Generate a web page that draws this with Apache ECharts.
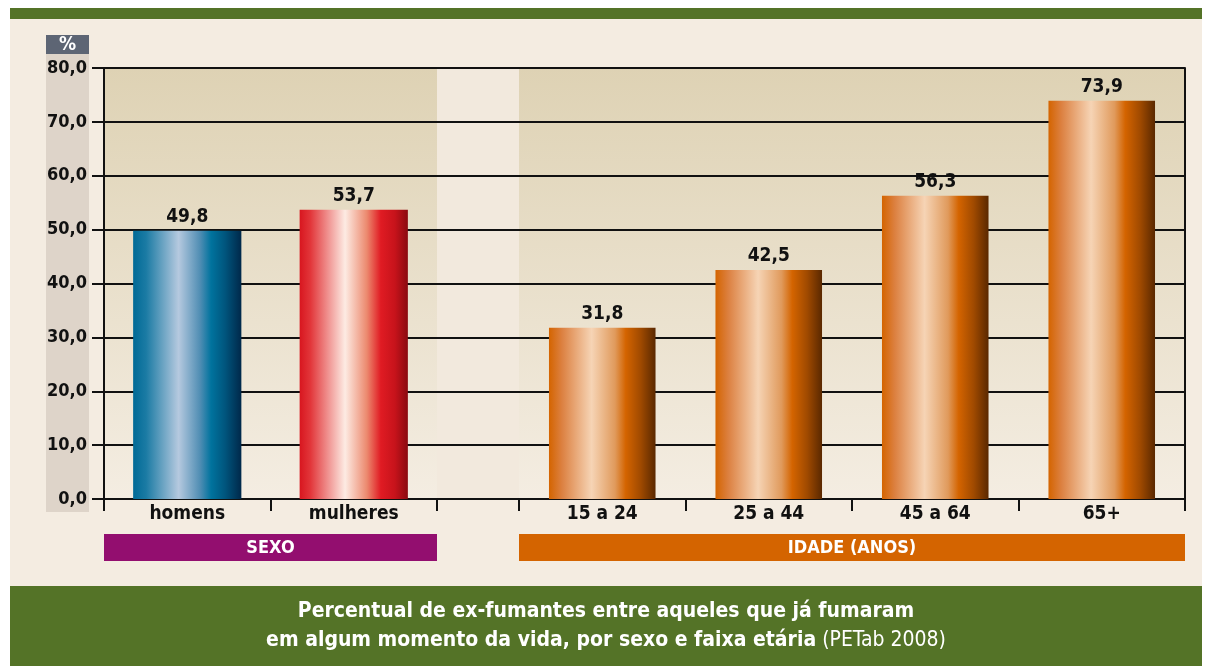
<!DOCTYPE html>
<html><head><meta charset="utf-8">
<script src="https://cdn.jsdelivr.net/npm/echarts@6/dist/echarts.min.js"></script>
<style>html,body{margin:0;padding:0;background:#ffffff;}#c{width:1212px;height:666px;}</style>
</head><body><div id="c"></div>
<script>
const sexoCategories = ['homens', 'mulheres'];
const sexoValues = [49.8, 53.7];
const idadeCategories = ['15 a 24', '25 a 44', '45 a 64', '65+'];
const idadeValues = [31.8, 42.5, 56.3, 73.9];
const yTicks = { min: 0, max: 80, interval: 10 };
const groupLabels = ['SEXO', 'IDADE (ANOS)'];
const titleLine1 = 'Percentual de ex-fumantes entre aqueles que já fumaram';
const titleLine2a = 'em algum momento da vida, por sexo e faixa etária';
const titleLine2b = ' (PETab 2008)';

const FONT = "'Liberation Sans Narrow','DejaVu Sans Condensed','Roboto',sans-serif";
const W = 1212, H = 666;
const plotL = 104, plotR = 1185, plotT = 68, plotB = 499;
const sexoR = 437, idadeL = 519;

function grad(stops) {
  return new echarts.graphic.LinearGradient(0, 0, 1, 0, stops.map(s => ({ offset: s[0], color: s[1] })));
}
const blue = grad([[0, '#006a96'], [0.12, '#1b7ba4'], [0.42, '#b5c9df'], [0.62, '#4f8db3'], [0.72, '#00739e'], [0.85, '#00557d'], [1, '#00284a']]);
const red = grad([[0, '#d8161f'], [0.1, '#e2363a'], [0.42, '#fdebe3'], [0.62, '#ec8a6f'], [0.75, '#e01b23'], [0.88, '#c7131b'], [1, '#8a0a10']]);
const orange = grad([[0, '#d46400'], [0.12, '#dc8040'], [0.4, '#f6d4b5'], [0.62, '#e09a5c'], [0.72, '#d46400'], [0.86, '#a04a00'], [1, '#5a2800']]);

const fmt = v => v.toFixed(1).replace('.', ',');

const labelCfg = {
  show: true, position: 'top', distance: 4,
  fontFamily: FONT, fontWeight: 'bold', fontSize: 19, color: '#111',
  formatter: p => fmt(p.value)
};

const chart = echarts.init(document.getElementById('c'), null, { renderer: 'canvas' });
const option = {
  animation: false,
  backgroundColor: '#ffffff',
  graphic: [
    { type: 'rect', z: -20, shape: { x: 10, y: 8, width: 1192, height: 658 }, style: { fill: '#f4ece1' }, silent: true },
    { type: 'rect', z: -19, shape: { x: 10, y: 8, width: 1192, height: 11 }, style: { fill: '#547327' }, silent: true },
    { type: 'rect', z: -19, shape: { x: 10, y: 586, width: 1192, height: 80 }, style: { fill: '#547327' }, silent: true },
    { type: 'rect', z: -19, shape: { x: 46, y: 54, width: 43, height: 458 }, style: { fill: '#ded4c9' }, silent: true },
    { type: 'rect', z: -19, shape: { x: 46, y: 35, width: 43, height: 19 }, style: { fill: '#5d6574' }, silent: true },
    { type: 'text', z: 5, style: { x: 67.5, y: 45, text: '%', fill: '#ffffff', font: 'bold 19px ' + FONT, align: 'center', verticalAlign: 'middle' }, silent: true },
    { type: 'rect', z: -18, shape: { x: plotL, y: plotT, width: plotR - plotL, height: plotB - plotT },
      style: { fill: new echarts.graphic.LinearGradient(0, 0, 0, 1, [{ offset: 0, color: '#ded2b4' }, { offset: 1, color: '#f4ede2' }]) }, silent: true },
    { type: 'rect', z: -17, shape: { x: sexoR, y: plotT, width: idadeL - sexoR, height: plotB - plotT }, style: { fill: '#f2e9dd' }, silent: true },
    { type: 'rect', z: -17, shape: { x: plotL, y: 534, width: sexoR - plotL, height: 27 }, style: { fill: '#930e6f' }, silent: true },
    { type: 'rect', z: -17, shape: { x: idadeL, y: 534, width: plotR - idadeL, height: 27 }, style: { fill: '#d46400' }, silent: true },
    { type: 'text', z: 5, style: { x: (plotL + sexoR) / 2, y: 548, text: groupLabels[0], fill: '#ffffff', font: 'bold 18px ' + FONT, align: 'center', verticalAlign: 'middle' }, silent: true },
    { type: 'text', z: 5, style: { x: (idadeL + plotR) / 2, y: 548, text: groupLabels[1], fill: '#ffffff', font: 'bold 18px ' + FONT, align: 'center', verticalAlign: 'middle' }, silent: true },
    { type: 'text', z: 5, style: { x: 606, y: 612, text: titleLine1, fill: '#ffffff', font: 'bold 21px ' + FONT, align: 'center', verticalAlign: 'middle' }, silent: true },
    { type: 'text', z: 5, style: { x: 606, y: 641,
        rich: { b: { fontFamily: FONT, fontWeight: 'bold', fontSize: 21, fill: '#ffffff' }, n: { fontFamily: FONT, fontWeight: 'normal', fontSize: 21, fill: '#ffffff' } },
        text: '{b|' + titleLine2a + '}{n|' + titleLine2b + '}', fill: '#ffffff', align: 'center', verticalAlign: 'middle' }, silent: true }
  ],
  grid: [
    { left: plotL, right: W - plotR, top: plotT, bottom: H - plotB },
    { left: plotL, width: sexoR - plotL, top: plotT, bottom: H - plotB },
    { left: idadeL, width: plotR - idadeL, top: plotT, bottom: H - plotB }
  ],
  xAxis: [
    { gridIndex: 0, type: 'category', data: [''], axisLine: { show: true, lineStyle: { color: '#111', width: 2 } }, axisTick: { show: false }, axisLabel: { show: false } },
    { gridIndex: 1, type: 'category', data: sexoCategories,
      axisLine: { show: true, lineStyle: { color: '#111', width: 2 } },
      axisTick: { show: true, length: 12, lineStyle: { color: '#111', width: 2 } },
      axisLabel: { fontFamily: FONT, fontWeight: 'bold', fontSize: 19, color: '#111', margin: 6 } },
    { gridIndex: 2, type: 'category', data: idadeCategories,
      axisLine: { show: true, lineStyle: { color: '#111', width: 2 } },
      axisTick: { show: true, length: 12, lineStyle: { color: '#111', width: 2 } },
      axisLabel: { fontFamily: FONT, fontWeight: 'bold', fontSize: 19, color: '#111', margin: 6 } }
  ],
  yAxis: [
    { gridIndex: 0, type: 'value', min: yTicks.min, max: yTicks.max, interval: yTicks.interval,
      axisLine: { show: true, lineStyle: { color: '#111', width: 2 } },
      axisTick: { show: true, length: 12, lineStyle: { color: '#111', width: 2 } },
      axisLabel: { fontFamily: FONT, fontWeight: 'bold', fontSize: 18, color: '#111', margin: 17, formatter: v => fmt(v) },
      splitLine: { show: true, lineStyle: { color: '#111', width: 2 } } },
    { gridIndex: 0, type: 'value', position: 'right', min: yTicks.min, max: yTicks.max, interval: yTicks.interval,
      axisLine: { show: true, lineStyle: { color: '#111', width: 2 } }, axisTick: { show: false }, axisLabel: { show: false }, splitLine: { show: false } },
    { gridIndex: 1, type: 'value', min: yTicks.min, max: yTicks.max, show: false, splitLine: { show: false } },
    { gridIndex: 2, type: 'value', min: yTicks.min, max: yTicks.max, show: false, splitLine: { show: false } }
  ],
  series: [
    { type: 'bar', xAxisIndex: 1, yAxisIndex: 2, barWidth: '65%', label: labelCfg,
      data: sexoValues.map((v, i) => ({ value: v, itemStyle: { color: i === 0 ? blue : red } })) },
    { type: 'bar', xAxisIndex: 2, yAxisIndex: 3, barWidth: '64%', label: labelCfg, itemStyle: { color: orange },
      data: idadeValues }
  ]
};
chart.setOption(option);
</script></body></html>
